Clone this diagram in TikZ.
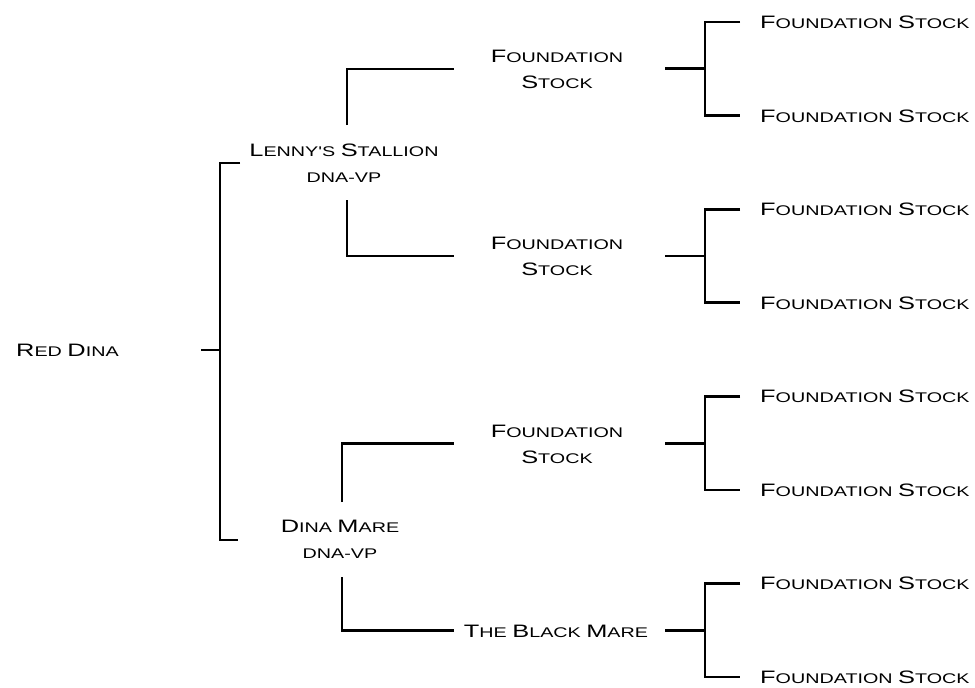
\documentclass[tikz,border=0pt]{standalone}
\usepackage{fontspec}
\newfontfamily\cpfont[FakeStretch=1.41]{Liberation Sans}
\newcommand\cw[2]{{\fontsize{18}{26}\selectfont #1}{\fontsize{14}{26}\selectfont #2}}
\newcommand\sm[1]{{\fontsize{14}{26}\selectfont #1}}
\tikzset{
  br/.style={line width=2.8pt, black, line join=miter},
  lbl/.style={font=\cpfont\fontsize{14}{26}\selectfont, inner sep=0pt, align=center, anchor=base},
  lblw/.style={lbl, anchor=base west, align=left},
}
\begin{document}
\begin{tikzpicture}[x=1pt,y=-1pt]
\useasboundingbox (0,0) rectangle (975,688);
% gen 0
\node[lblw] (red) at (16,356.5) {\cw{R}{ED} \cw{D}{INA}};
% gen 1 (base anchor = last line)
\node[lbl] (lenny) at (344,182.5) {\cw{L}{ENNY'S} \cw{S}{TALLION}\\\sm{DNA-VP}};
\node[lbl] (dina) at (340,558) {\cw{D}{INA} \cw{M}{ARE}\\\sm{DNA-VP}};
% gen 2
\node[lbl] (f1) at (557,88) {\cw{F}{OUNDATION}\\\cw{S}{TOCK}};
\node[lbl] (f2) at (557,275) {\cw{F}{OUNDATION}\\\cw{S}{TOCK}};
\node[lbl] (f3) at (557,463) {\cw{F}{OUNDATION}\\\cw{S}{TOCK}};
\node[lbl] (bm) at (556,637.5) {\cw{T}{HE} \cw{B}{LACK} \cw{M}{ARE}};
% gen 3
\foreach \i/\y in {1/22,2/115.6,3/209.1,4/302.7,5/396.3,6/489.9,7/583.4,8/677}{
  \node[lblw] (g\i) at (760,\y+6.5) {\cw{F}{OUNDATION} \cw{S}{TOCK}};
  \coordinate (t\i) at (740,\y);
}
% coordinates for connectors
\coordinate (r0) at (201,350);
\coordinate (rv) at (220,350);
\coordinate (rt) at (240,163);
\coordinate (rb) at (238,540);
\coordinate (la) at (347,125);
\coordinate (lb) at (347,200);
\coordinate (da) at (342,502);
\coordinate (db) at (342,577);
\coordinate (e1) at (454,68.8);
\coordinate (e2) at (454,255.9);
\coordinate (e3) at (454,443.1);
\coordinate (e4) at (454,630.2);
\coordinate (s1) at (665,68.8);
\coordinate (s2) at (665,255.9);
\coordinate (s3) at (665,443.1);
\coordinate (s4) at (665,630.2);
% root bracket
\draw[br] (r0) -- (rv);
\draw[br] (rt) -| (220,350) |- (rb);
% gen1 brackets
\draw[br, line width=1.8pt] (la) |- (e1);
\draw[br] (lb) |- (e2);
\draw[br] (da) |- (e3);
\draw[br] (db) |- (e4);
% gen2 brackets
\foreach \k/\a/\b in {1/1/2,2/3/4,3/5/6,4/7/8}{
  \draw[br] (s\k) -- (705,0 |- s\k);
  \draw[br] (t\a) -| (705,0 |- s\k) |- (t\b);
}
\end{tikzpicture}
\end{document}
